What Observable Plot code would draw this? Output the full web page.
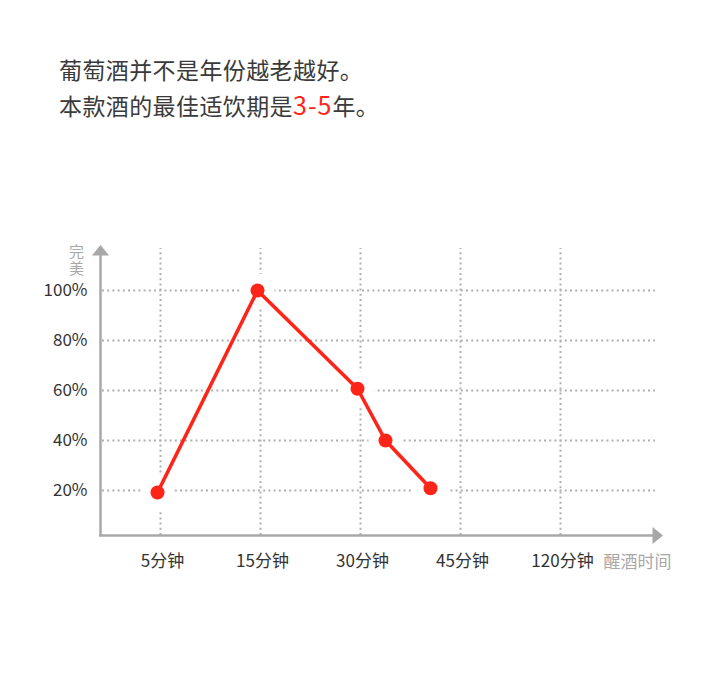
<!DOCTYPE html>
<html>
<head>
<meta charset="utf-8">
<script src="https://cdn.jsdelivr.net/npm/d3@7"></script>
<script src="https://cdn.jsdelivr.net/npm/@observablehq/plot@0.6"></script>
<style>
  html, body { margin: 0; padding: 0; background: #fff; }
  body { width: 720px; height: 695px; overflow: hidden; font-family: "Noto Sans CJK SC", "Noto Sans", sans-serif; }
  #title { height: 150px; box-sizing: border-box; padding: 52px 0 0 59px; color: #3a3a3a; font-size: 23px; line-height: 35px; letter-spacing: 0.4px; }
  #title .red { color: #ff2418; font-size: 25px; letter-spacing: 1px; }
  #chart svg { display: block; }
</style>
</head>
<body>
<div id="title">
  <div>葡萄酒并不是年份越老越好。</div>
  <div>本款酒的最佳适饮期是<span class="red">3-5</span>年。</div>
</div>
<div id="chart"></div>
<script>
// categories (x ticks) and tick labels
const xLabels = ["5分钟", "15分钟", "30分钟", "45分钟", "120分钟"];
const yTicks = [20, 40, 60, 80, 100];
// series (x in category-index units, y in %)
const pointX = [-0.03, 0.97, 1.97, 2.25, 2.7];
const pointY = [19.2, 100, 60.7, 40, 20.9];
const yAxisTitle = "完美";
const xAxisTitle = "醒酒时间";

const points = pointX.map((x, i) => ({x, y: pointY[i]}));

const upArrow = {draw(ctx) { ctx.moveTo(0, -5.5); ctx.lineTo(8.5, 5); ctx.lineTo(-8.5, 5); ctx.closePath(); }};
const rightArrow = {draw(ctx) { ctx.moveTo(5.5, 0); ctx.lineTo(-5, 8.5); ctx.lineTo(-5, -8.5); ctx.closePath(); }};

const axisColor = "#a8a8a8";
const gridColor = "#b0b0b0";
const red = "#ff2418";
const xMin = -0.6, xMax = 4.95, yBase = 2, yTop = 116.8;

const chart = Plot.plot({
  width: 720,
  height: 545,
  margin: 0,
  x: {type: "linear", domain: [0, 4], range: [160, 560]},
  y: {type: "linear", domain: [0, 100], range: [390, 140]},
  axis: null,
  style: {fontFamily: "'Noto Sans CJK SC', 'Noto Sans', sans-serif", background: "#fff"},
  marks: [
    // dotted grid
    Plot.ruleX(xLabels.map((d, i) => i), {x: d => d, y1: yBase, y2: yTop, stroke: gridColor, strokeWidth: 2, strokeDasharray: "2,3.2"}),
    Plot.ruleY(yTicks, {y: d => d, x1: xMin + 0.02, x2: xMax, stroke: gridColor, strokeWidth: 2, strokeDasharray: "2,3.2"}),
    // white halos around the points
    Plot.dot(points, {x: "x", y: "y", r: 17, fill: "#fff", stroke: "none"}),
    // axes
    Plot.ruleY([yBase], {x1: xMin - 0.01, x2: 4.93, stroke: axisColor, strokeWidth: 2.5}),
    Plot.ruleX([xMin], {y1: yBase, y2: 114, stroke: axisColor, strokeWidth: 2.5}),
    Plot.dot([{x: xMin, y: 116}], {x: "x", y: "y", symbol: upArrow, r: 8, fill: axisColor, stroke: "none"}),
    Plot.dot([{x: 4.97, y: yBase}], {x: "x", y: "y", symbol: rightArrow, r: 8, fill: axisColor, stroke: "none"}),
    // tick labels
    Plot.text(yTicks, {x: xMin, y: d => d, text: d => d + "%", dx: -13, textAnchor: "end", fontSize: 17, fill: "#333"}),
    Plot.text(xLabels, {x: (d, i) => i, y: yBase, text: d => d, dx: 2, dy: 26, fontSize: 17, fill: "#333"}),
    Plot.text([xAxisTitle], {x: 4.43, y: yBase, text: d => d, dy: 27, textAnchor: "start", fontSize: 17, fill: "#a8a8a8"}),
    Plot.text([yAxisTitle], {x: xMin, y: 113.8, text: d => d, dx: -24, fontSize: 15, fill: "#a8a8a8", className: "ytitle"}),
    // series
    Plot.line(points, {x: "x", y: "y", stroke: red, strokeWidth: 3.6, strokeLinejoin: "round"}),
    Plot.dot(points, {x: "x", y: "y", r: 7, fill: red, stroke: "none"})
  ]
});
// set the y-axis title in vertical writing mode (one text, stacked characters)
d3.select(chart).selectAll(".ytitle text")
  .attr("writing-mode", "vertical-rl")
  .attr("dy", null)
  .attr("letter-spacing", "2px")
  .style("text-orientation", "upright");
document.getElementById("chart").appendChild(chart);
</script>
</body>
</html>
